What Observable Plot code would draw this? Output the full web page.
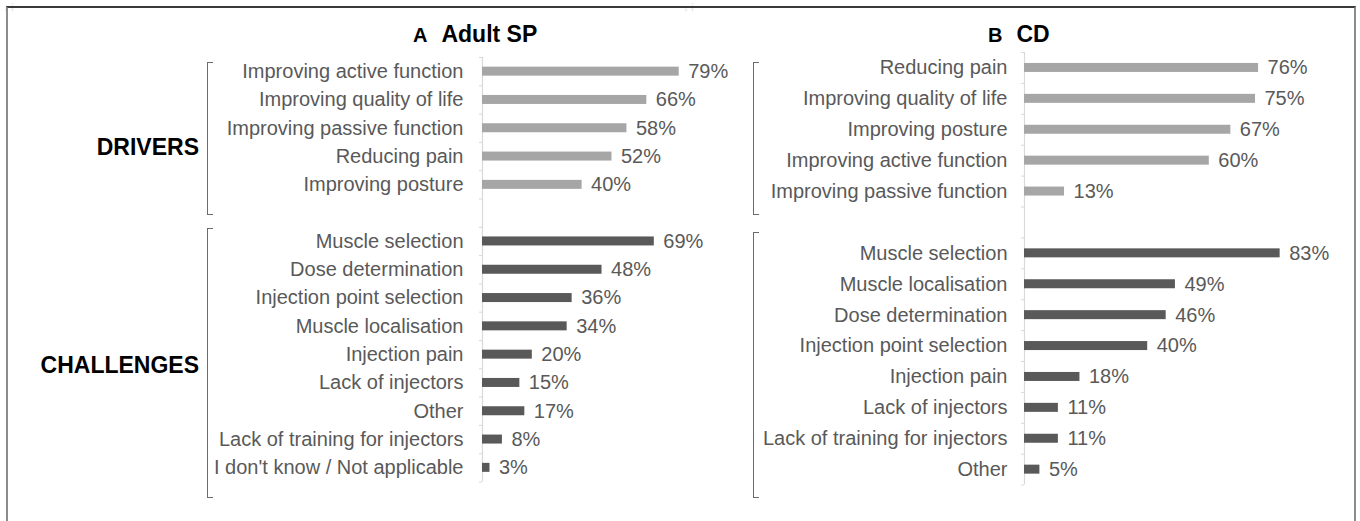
<!DOCTYPE html>
<html>
<head>
<meta charset="utf-8">
<script src="https://cdn.jsdelivr.net/npm/d3@7"></script>
<script src="https://cdn.jsdelivr.net/npm/@observablehq/plot@0.6"></script>
<style>
  html, body { margin: 0; padding: 0; background: #fff; }
  #root { position: relative; width: 1360px; height: 521px; overflow: hidden; font-family: "Liberation Sans", Arial, sans-serif; }
  .abs { position: absolute; }
  .frame { left: 6px; top: 6px; width: 1350px; height: 530px; border-top: 2px solid #3a3a3a; border-left: 2px solid #8c8c8c; border-right: 2px solid #8c8c8c; box-sizing: border-box; z-index: 5; pointer-events: none; }
  .title { font-weight: bold; color: #000; white-space: nowrap; z-index: 2; }
  .title .letter { font-size: 20px; }
  .title .name { font-size: 23px; margin-left: 14px; }
  .group { font-weight: bold; font-size: 23px; color: #000; text-align: right; width: 190px; white-space: nowrap; z-index: 2; }
  .bracket { width: 6px; border-left: 1px solid #6b6b6b; border-top: 1px solid #6b6b6b; border-bottom: 1px solid #6b6b6b; box-sizing: border-box; z-index: 2; }
</style>
</head>
<body>
<div id="root">
  <div class="abs" id="panelA" style="left:0px; top:0px;"></div>
  <div class="abs" id="panelB" style="left:680px; top:0px;"></div>
  <div class="abs frame"></div>
  <div class="abs title" style="left:413px; top:21px;"><span class="letter">A</span><span class="name">Adult SP</span></div>
  <div class="abs title" style="left:988px; top:21px;"><span class="letter">B</span><span class="name">CD</span></div>
  <div class="abs group" style="left:9px; top:134px;">DRIVERS</div>
  <div class="abs group" style="left:9px; top:352px;">CHALLENGES</div>
  <div class="abs bracket" style="left:207px; top:62px; height:153px;"></div>
  <div class="abs bracket" style="left:207px; top:228px; height:270px;"></div>
  <div class="abs bracket" style="left:753px; top:62px; height:153px;"></div>
  <div class="abs bracket" style="left:753px; top:232px; height:266px;"></div>
</div>
<script>
// Panel A: Adult SP
const aDriverLabels = ["Improving active function", "Improving quality of life", "Improving passive function", "Reducing pain", "Improving posture"];
const aDriverValues = [79, 66, 58, 52, 40];
const aChallengeLabels = ["Muscle selection", "Dose determination", "Injection point selection", "Muscle localisation", "Injection pain", "Lack of injectors", "Other", "Lack of training for injectors", "I don't know / Not applicable"];
const aChallengeValues = [69, 48, 36, 34, 20, 15, 17, 8, 3];

// Panel B: CD
const bDriverLabels = ["Reducing pain", "Improving quality of life", "Improving posture", "Improving active function", "Improving passive function"];
const bDriverValues = [76, 75, 67, 60, 13];
const bChallengeLabels = ["Muscle selection", "Muscle localisation", "Dose determination", "Injection point selection", "Injection pain", "Lack of injectors", "Lack of training for injectors", "Other"];
const bChallengeValues = [83, 49, 46, 40, 18, 11, 11, 5];

const LIGHT = "#a6a6a6";
const DARK = "#595959";
const TEXT = "#595959";
const FONT = '"Liberation Sans", Arial, sans-serif';

function buildRows(dl, dv, cl, cv) {
  const rows = dl.map((l, k) => ({label: l, value: dv[k], group: "Drivers", i: k}));
  const off = dl.length + 1;
  cl.forEach((l, k) => rows.push({label: l, value: cv[k], group: "Challenges", i: off + k}));
  return rows;
}

function panel(rows, opts) {
  const n = rows.length + 1;
  const bar = 9;
  const step = (opts.height - opts.marginTop - opts.marginBottom) / n;
  const inset = (step - bar) / 2;
  const mid = d => d.i + 0.5;
  return Plot.plot({
    width: opts.width,
    height: opts.height,
    marginLeft: opts.marginLeft,
    marginRight: opts.marginRight,
    marginTop: opts.marginTop,
    marginBottom: opts.marginBottom,
    x: {domain: [0, 100], axis: null},
    y: {domain: [0, n], reverse: true, axis: null},
    style: {fontFamily: FONT, background: "transparent", overflow: "visible"},
    marks: [
      Plot.ruleX([0], {stroke: "#d9d9d9", strokeWidth: 1.2}),
      Plot.axisY({ticks: d3.range(n + 1), tickSize: 3, tickFormat: () => "", color: "#d9d9d9"}),
      Plot.rectX(rows.filter(d => d.group === "Drivers"), {x: "value", y1: "i", y2: d => d.i + 1, insetTop: inset, insetBottom: inset, fill: LIGHT}),
      Plot.rectX(rows.filter(d => d.group === "Challenges"), {x: "value", y1: "i", y2: d => d.i + 1, insetTop: inset, insetBottom: inset, fill: DARK}),
      Plot.text(rows, {x: 0, y: mid, text: "label", textAnchor: "end", dx: opts.labelDx, fontSize: 20, fill: TEXT}),
      Plot.text(rows, {x: "value", y: mid, text: d => d.value + "%", textAnchor: "start", dx: 9, fontSize: 20, fill: TEXT})
    ]
  });
}

const rowsA = buildRows(aDriverLabels, aDriverValues, aChallengeLabels, aChallengeValues);
const rowsB = buildRows(bDriverLabels, bDriverValues, bChallengeLabels, bChallengeValues);

document.getElementById("panelA").appendChild(panel(rowsA, {
  width: 740, height: 521, marginLeft: 482, marginRight: 9, marginTop: 57, marginBottom: 39.5, labelDx: -19
}));
document.getElementById("panelB").appendChild(panel(rowsB, {
  width: 680, height: 521, marginLeft: 344, marginRight: 28, marginTop: 52, marginBottom: 36.4, labelDx: -17
}));
</script>
</body>
</html>
